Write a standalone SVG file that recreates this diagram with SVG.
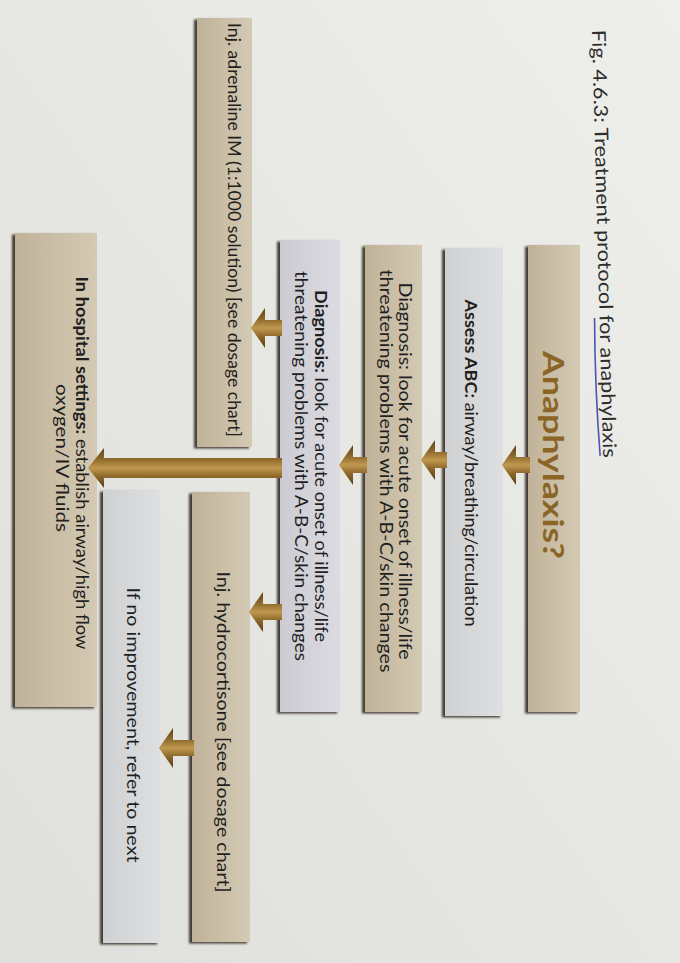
<svg xmlns="http://www.w3.org/2000/svg" width="680" height="963" viewBox="0 0 680 963">
<defs>
<style>
.t{font-family:Lato,'Noto Sans','Liberation Sans',sans-serif;font-size:17.5px;fill:#1f1f1f}
.b{font-weight:bold}
.big{font-size:28px;font-weight:bold;fill:#8a6526}
.ttl{font-size:19px;fill:#2e2e2e}
.tan{fill:url(#gTan)}
.grey{fill:url(#gGrey)}
.lav{fill:url(#gLav)}
.box{filter:url(#sh)}
.arr{fill:url(#gArr)}
</style>
<linearGradient id="gBg" x1="1" y1="0" x2="0" y2="1">
<stop offset="0" stop-color="#eeefeb"/>
<stop offset="1" stop-color="#dfe0db"/>
</linearGradient>
<linearGradient id="gTan" x1="0" y1="0" x2="0" y2="1">
<stop offset="0" stop-color="#d4c9b3"/>
<stop offset="0.5" stop-color="#cabea6"/>
<stop offset="1" stop-color="#bfb299"/>
</linearGradient>
<linearGradient id="gGrey" x1="0" y1="0" x2="0" y2="1">
<stop offset="0" stop-color="#dedfe0"/>
<stop offset="1" stop-color="#cfd0d2"/>
</linearGradient>
<linearGradient id="gLav" x1="0" y1="0" x2="0" y2="1">
<stop offset="0" stop-color="#dcdbe1"/>
<stop offset="1" stop-color="#cccbd3"/>
</linearGradient>
<linearGradient id="gArr" x1="0" y1="0" x2="1" y2="0">
<stop offset="0" stop-color="#5a4016"/>
<stop offset="0.3" stop-color="#936d2e"/>
<stop offset="0.5" stop-color="#c09850"/>
<stop offset="0.7" stop-color="#906a2c"/>
<stop offset="1" stop-color="#563c14"/>
</linearGradient>
<filter id="sh" x="-5%" y="-20%" width="110%" height="140%">
<feDropShadow dx="1.5" dy="3" stdDeviation="1.2" flood-color="#2b2118" flood-opacity="0.85"/>
</filter>
</defs>
<rect x="0" y="0" width="680" height="963" fill="url(#gBg)"/>
<g transform="matrix(0 1 -1 0 680 0)">
<g id="title" transform="rotate(-1.5 30 88)">
<text class="t ttl" x="30" y="88" textLength="428" lengthAdjust="spacingAndGlyphs">Fig. 4.6.3: Treatment protocol for anaphylaxis</text>
<path d="M318,93 Q390,94.5 456,91" fill="none" stroke="#4b55b5" stroke-width="1.6"/>
</g>
<g id="n1">
<rect class="box tan" x="245" y="100" width="467" height="52"/>
<text class="t big" x="455" y="137" text-anchor="middle" textLength="208" lengthAdjust="spacingAndGlyphs">Anaphylaxis?</text>
</g>
<g id="n2">
<rect class="box grey" x="248" y="177" width="468" height="58"/>
<text class="t" x="463" y="215" text-anchor="middle" textLength="327" lengthAdjust="spacingAndGlyphs"><tspan class="b">Assess ABC:</tspan> airway/breathing/circulation</text>
</g>
<g id="n3">
<rect class="box tan" x="245" y="258" width="467" height="57"/>
<text class="t" x="471" y="281" text-anchor="middle" textLength="377" lengthAdjust="spacingAndGlyphs">Diagnosis: look for acute onset of illness/life</text>
<text class="t" x="471" y="300" text-anchor="middle" textLength="403" lengthAdjust="spacingAndGlyphs">threatening problems with A-B-C/skin changes</text>
</g>
<g id="n4">
<rect class="box lav" x="240" y="340" width="472" height="60"/>
<text class="t" x="466" y="365" text-anchor="middle" textLength="352" lengthAdjust="spacingAndGlyphs"><tspan class="b">Diagnosis:</tspan> look for acute onset of illness/life</text>
<text class="t" x="466" y="385" text-anchor="middle" textLength="390" lengthAdjust="spacingAndGlyphs">threatening problems with A-B-C/skin changes</text>
</g>
<g id="n5">
<rect class="box tan" x="18" y="428" width="429" height="55"/>
<text class="t" x="230" y="452" text-anchor="middle" textLength="414" lengthAdjust="spacingAndGlyphs">Inj. adrenaline IM (1:1000 solution) [see dosage chart]</text>
</g>
<g id="n6">
<rect class="box tan" x="492" y="430" width="450" height="58"/>
<text class="t" x="732" y="463" text-anchor="middle" textLength="321" lengthAdjust="spacingAndGlyphs">Inj. hydrocortisone [see dosage chart]</text>
</g>
<g id="n7">
<rect class="box grey" x="490" y="520" width="453" height="57"/>
<text class="t" x="725" y="553" text-anchor="middle" textLength="275" lengthAdjust="spacingAndGlyphs">If no improvement, refer to next</text>
</g>
<g id="n8">
<rect class="box tan" x="233" y="583" width="474" height="82"/>
<text class="t" x="463" y="604" text-anchor="middle" textLength="373" lengthAdjust="spacingAndGlyphs"><tspan class="b">In hospital settings:</tspan> establish airway/high flow</text>
<text class="t" x="458" y="624" text-anchor="middle" textLength="148" lengthAdjust="spacingAndGlyphs">oxygen/IV fluids</text>
</g>
<g id="connectors">
<path class="arr" d="M457,150 L473,150 L473,164 L485,164 L465,178 L445,164 L457,164 Z"/>
<path class="arr" d="M452,233 L468,233 L468,245 L480,245 L460,259 L440,245 L452,245 Z"/>
<path class="arr" d="M457,313 L473,313 L473,327 L485,327 L465,341 L445,327 L457,327 Z"/>
<path class="arr" d="M320,398 L336,398 L336,415 L348,415 L328,429 L308,415 L320,415 Z"/>
<path class="arr" d="M604,398 L620,398 L620,417 L632,417 L612,431 L592,417 L604,417 Z"/>
<path class="arr" d="M740,486 L756,486 L756,507 L768,507 L748,521 L728,507 L740,507 Z"/>
<path class="arr" d="M458,398 L478,398 L478,576 L488,576 L468,592 L448,576 L458,576 Z"/>
</g>
</g>
</svg>
